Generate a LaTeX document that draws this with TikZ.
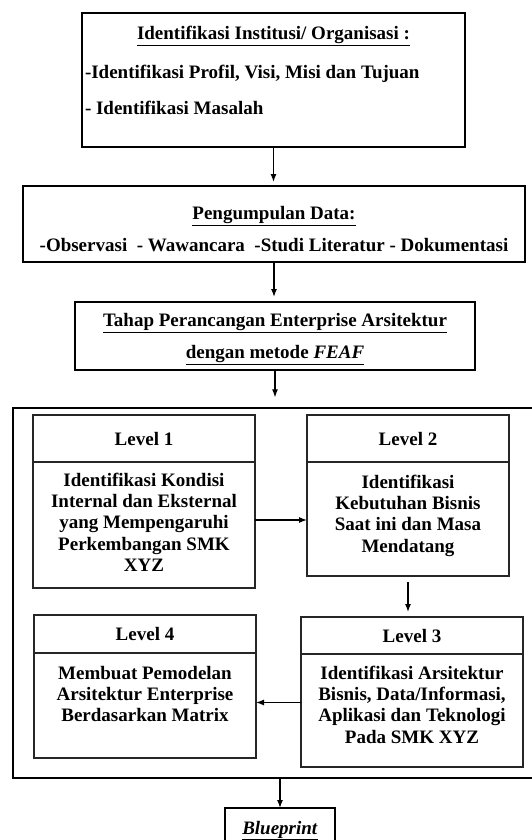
\documentclass[tikz,border=0pt]{standalone}
\usepackage{fontspec}
\setmainfont{Liberation Serif}
\usetikzlibrary{positioning,calc,arrows.meta}

\newcommand{\boxtext}[3]{\parbox[c][#2][t]{#1}{#3}}

\tikzset{
  txt/.style={font=\fontsize{19}{22}\selectfont\bfseries},
  mainbox/.style={draw,line width=1.3pt,txt,inner sep=0pt,outer sep=0pt},
  lvhead/.style={draw=black!85,line width=1.5pt,txt,inner sep=0pt,outer sep=0pt},
  lvbody/.style={draw=black!85,line width=1.5pt,font=\fontsize{19}{21.3}\selectfont\bfseries,inner sep=0pt,outer sep=0pt},
  flow/.style={->,line width=1.2pt},
}

\begin{document}
\begin{tikzpicture}[>={Latex[length=8pt,width=6pt]},x=1pt,y=-1pt]
\useasboundingbox (0,0) rectangle (532,840);

\node [mainbox] (inst) at (273.5,80) {\boxtext{383pt}{134pt}{%
  \vspace*{13pt}{\centering\underline{Identifikasi Institusi/ Organisasi :}\par}
  \vspace{17pt}\hspace*{3pt}-Identifikasi Profil, Visi, Misi dan Tujuan\par
  \vspace{14pt}\hspace*{3pt}- Identifikasi Masalah\par}};

\node [mainbox] (data) at (274,224) {\boxtext{502pt}{76pt}{\centering
  \vspace*{20pt}\underline{Pengumpulan Data:}\par
  \vspace{10pt}-Observasi\ \ - Wawancara\ \ -Studi Literatur - Dokumentasi\par}};

\node [mainbox] (tahap) at (275,336) {\boxtext{400pt}{68pt}{\centering
  \vspace*{11pt}\underline{Tahap Perancangan Enterprise Arsitektur}\par
  \vspace{10pt}\underline{dengan metode \textit{FEAF}}\par}};

% frame round the four levels
\node [draw,line width=1.3pt,minimum width=521pt,minimum height=370pt,inner sep=0pt] (feaf) at (273.5,593) {};

\node [lvhead,anchor=north west,minimum width=222pt,minimum height=47pt] (lv1h) at (33,415) {Level 1};
\node [lvbody,below=0pt of lv1h] (lv1b) {\boxtext{222pt}{126pt}{\centering\vspace*{11pt}%
  Identifikasi Kondisi\\ Internal dan Eksternal\\ yang Mempengaruhi\\ Perkembangan SMK\\ XYZ}};

\node [lvhead,anchor=north west,minimum width=202pt,minimum height=47pt] (lv2h) at (307,415) {Level 2};
\node [lvbody,below=0pt of lv2h] (lv2b) {\boxtext{202pt}{114pt}{\centering\vspace*{13pt}%
  Identifikasi\\ Kebutuhan Bisnis\\ Saat ini dan Masa\\ Mendatang}};

\node [lvhead,anchor=north west,minimum width=222pt,minimum height=37pt] (lv3h) at (301,617) {Level 3};
\node [lvbody,below=0pt of lv3h] (lv3b) {\boxtext{222pt}{113pt}{\centering\vspace*{12pt}%
  Identifikasi Arsitektur\\ Bisnis, Data/Informasi,\\ Aplikasi dan Teknologi\\ Pada SMK XYZ}};

\node [lvhead,anchor=north west,minimum width=222pt,minimum height=38pt] (lv4h) at (34,615) {Level 4};
\node [lvbody,below=0pt of lv4h] (lv4b) {\boxtext{222pt}{105pt}{\centering\vspace*{13pt}%
  Membuat Pemodelan\\ Arsitektur Enterprise\\ Berdasarkan Matrix}};

\node [mainbox,anchor=north] (blue) at (280,808) {\boxtext{110pt}{50pt}{\centering\vspace*{13pt}%
  \underline{\textit{Blueprint}}}};

\draw [flow,shorten >=4pt] (inst.south) -- (inst.south |- data.north);
\draw [flow,shorten >=5pt] (data.south) -- (data.south |- tahap.north);
\draw [flow,shorten >=10pt] (tahap.south) -- (tahap.south |- feaf.north);
\draw [flow] ([yshift=5pt]lv1b.east) -- ([yshift=5pt]lv1b.east -| lv2b.west);
\draw [flow,shorten <=6pt,shorten >=5pt] (lv2b.south) -- (lv2b.south |- lv3h.north);
\draw [flow] ([yshift=8pt]lv3b.west) -- ([yshift=8pt]lv3b.west -| lv4b.east);
\draw [flow] (feaf.south -| blue.north) -- (blue.north);

\end{tikzpicture}
\end{document}
